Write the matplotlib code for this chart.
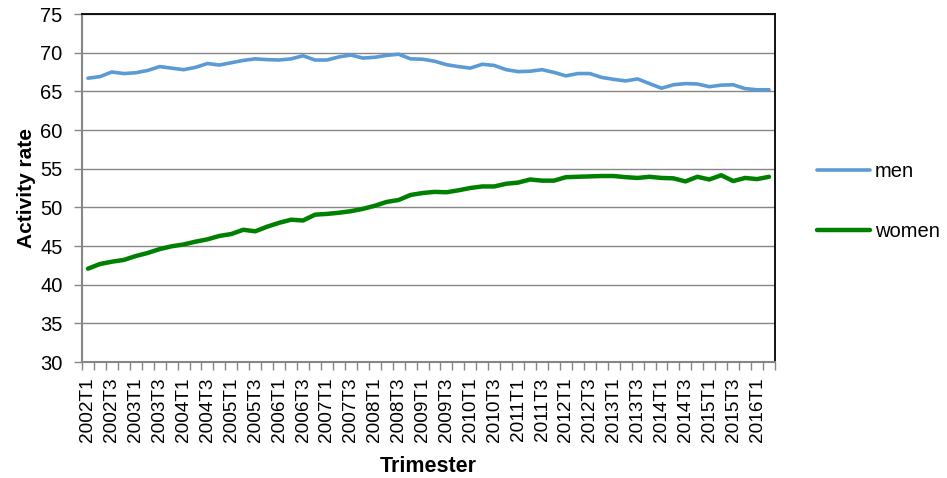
import numpy as np
import matplotlib.pyplot as plt

plt.rcParams['font.family'] = ['Liberation Sans', 'DejaVu Sans']

# quarters 2002T1 .. 2016T2
years = list(range(2002, 2017))
quarters = [f"{y}T{q}" for y in years for q in range(1, 5)][:58]

men = [66.7, 66.9, 67.5, 67.3, 67.4, 67.7, 68.2, 68.0, 67.8, 68.1,
       68.6, 68.4, 68.7, 69.0, 69.2, 69.1, 69.05, 69.2, 69.6, 69.05,
       69.05, 69.45, 69.7, 69.3, 69.4, 69.65, 69.8, 69.2, 69.15, 68.9,
       68.45, 68.2, 68.0, 68.5, 68.35, 67.8, 67.55, 67.6, 67.8, 67.45,
       67.0, 67.3, 67.3, 66.8, 66.55, 66.35, 66.6, 66.0, 65.4, 65.85,
       66.0, 65.95, 65.6, 65.8, 65.85, 65.35, 65.2, 65.2]

women = [42.07, 42.67, 42.97, 43.2, 43.7, 44.1, 44.6, 44.96, 45.2, 45.56,
         45.86, 46.3, 46.55, 47.1, 46.9, 47.5, 48.0, 48.4, 48.3, 49.05,
         49.15, 49.3, 49.5, 49.8, 50.2, 50.7, 50.95, 51.6, 51.85, 52.0,
         51.95, 52.2, 52.5, 52.7, 52.7, 53.05, 53.2, 53.6, 53.45, 53.45,
         53.9, 53.95, 54.0, 54.05, 54.05, 53.9, 53.8, 53.95, 53.8, 53.75,
         53.35, 53.95, 53.6, 54.15, 53.4, 53.8, 53.65, 53.95]

grid_col = '#868686'

fig = plt.figure(figsize=(9.47, 4.78), dpi=100)
ax = fig.add_axes([82 / 947, 116 / 478, 693 / 947, 348 / 478])

x = np.arange(len(quarters))
ax.plot(x, men, color='#5B9BD5', lw=2.6, label='men', solid_capstyle='round')
ax.plot(x, women, color='#008000', lw=3.2, label='women', solid_capstyle='round')

ax.set_xlim(-0.5, len(quarters) - 0.5)
ax.set_ylim(30, 75)
ax.set_yticks(range(30, 80, 5))
ax.yaxis.grid(True, color=grid_col, lw=1)
ax.set_axisbelow(True)

ax.set_xticks(x[::2])
ax.set_xticklabels(quarters[::2], rotation=90)
ax.set_xticks(np.arange(-0.5, len(quarters)), minor=True)
ax.tick_params(axis='x', which='major', length=0, pad=11, labelsize=13.7)
ax.tick_params(axis='x', which='minor', length=6, color=grid_col, width=1)
ax.tick_params(axis='y', length=6, color=grid_col, width=1, labelsize=14.5, pad=8)

for side in ['left', 'bottom']:
    ax.spines[side].set_color(grid_col)
    ax.spines[side].set_linewidth(1.5)
for side in ['top', 'right']:
    ax.spines[side].set_color('black')
    ax.spines[side].set_linewidth(1.3)

ax.set_ylabel('Activity rate', fontsize=15, fontweight='bold', labelpad=3)
ax.set_xlabel('Trimester', fontsize=15.5, fontweight='bold', labelpad=10)

ax.legend(loc='center left', bbox_to_anchor=(1.035, 0.461), frameon=False,
          fontsize=14.5, handlelength=2.6, labelspacing=2.0, handletextpad=0.25)

fig.savefig('out.png', dpi=100)
